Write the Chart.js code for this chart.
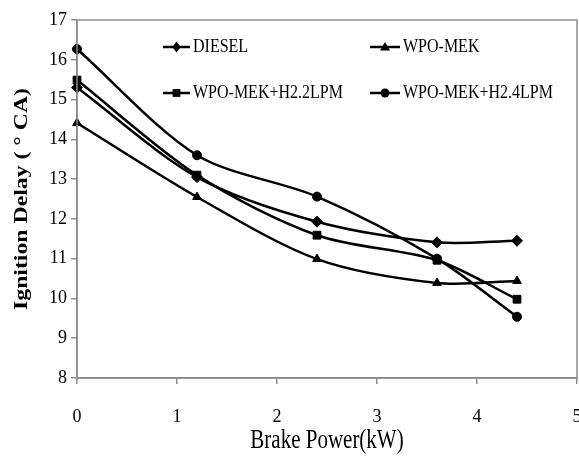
<!DOCTYPE html>
<html>
<head>
<meta charset="utf-8">
<script src="https://cdn.jsdelivr.net/npm/chart.js"></script>
<style>
  body { margin: 0; background: #fff; }
</style>
</head>
<body>
<canvas id="chart" width="579" height="459"></canvas>
<script>
// Brake power (kW) where readings were taken
const brakePower = [0, 1.2, 2.4, 3.6, 4.4];
// Ignition delay (deg CA) per fuel
const diesel = [15.3, 13.05, 11.93, 11.41, 11.45];
const wpoMek = [14.41, 12.55, 10.99, 10.39, 10.44];
const wpoMekH22 = [15.49, 13.1, 11.59, 10.96, 9.98];
const wpoMekH24 = [16.27, 13.6, 12.56, 11.0, 9.54];
const seriesNames = ['DIESEL', 'WPO-MEK', 'WPO-MEK+H2.2LPM', 'WPO-MEK+H2.4LPM'];
const markers = ['rectRot', 'triangle', 'rect', 'circle'];
const xTicks = [0, 1, 2, 3, 4, 5];
const yTicks = [8, 9, 10, 11, 12, 13, 14, 15, 16, 17];

const serif = '"Liberation Serif", "Times New Roman", serif';
const axisGray = '#8c8c8c';

function toPoints(values) {
  return values.map((v, i) => ({ x: brakePower[i], y: v }));
}

const allSeries = [diesel, wpoMek, wpoMekH22, wpoMekH24];
const markerSize = { rectRot: 5.5, triangle: 5, rect: 5.5, circle: 4.5 };

const datasets = allSeries.map((vals, i) => ({
  label: seriesNames[i],
  data: toPoints(vals),
  borderColor: '#000',
  backgroundColor: '#000',
  borderWidth: 2.5,
  pointStyle: markers[i],
  pointRadius: markerSize[markers[i]],
  pointBorderWidth: 1,
  tension: 0.3,
  clip: false
}));

// draw one legend marker by hand
function drawMarker(ctx, style, x, y, r) {
  ctx.beginPath();
  if (style === 'circle') {
    ctx.arc(x, y, r, 0, Math.PI * 2);
  } else if (style === 'rect') {
    const s = r * Math.SQRT1_2;
    ctx.rect(x - s, y - s, 2 * s, 2 * s);
  } else if (style === 'rectRot') {
    ctx.moveTo(x, y - r);
    ctx.lineTo(x + r * 0.75, y);
    ctx.lineTo(x, y + r);
    ctx.lineTo(x - r * 0.75, y);
    ctx.closePath();
  } else if (style === 'triangle') {
    ctx.moveTo(x, y - r);
    ctx.lineTo(x + r, y + r * 0.7);
    ctx.lineTo(x - r, y + r * 0.7);
    ctx.closePath();
  }
  ctx.fill();
}

const decorPlugin = {
  id: 'decor',
  afterDraw(chart) {
    const { ctx, chartArea: a } = chart;
    ctx.save();

    // frame around plot
    ctx.strokeStyle = axisGray;
    ctx.lineWidth = 1.5;
    ctx.strokeRect(a.left, a.top, a.right - a.left, a.bottom - a.top);

    ctx.fillStyle = '#000';
    ctx.textAlign = 'center';
    ctx.textBaseline = 'middle';

    // y axis title (stretched like the original)
    ctx.save();
    ctx.translate(22, (a.top + a.bottom) / 2);
    ctx.rotate(-Math.PI / 2);
    ctx.scale(1.25, 1);
    ctx.font = 'bold 19px ' + serif;
    ctx.fillText('Ignition Delay ( \u00b0 CA)', 0, 0);
    ctx.restore();

    // x axis title
    ctx.save();
    ctx.translate((a.left + a.right) / 2, 441);
    ctx.scale(1, 1.25);
    ctx.font = '21px ' + serif;
    ctx.fillText('Brake Power(kW)', 0, 0);
    ctx.restore();

    // legend, two columns two rows inside plot
    const cols = [{ x0: 163, x1: 190, tx: 193 }, { x0: 370, x1: 400, tx: 403 }];
    const rows = [47, 93];
    ctx.textAlign = 'left';
    seriesNames.forEach((name, i) => {
      const c = cols[i % 2];
      const y = rows[Math.floor(i / 2)];
      ctx.strokeStyle = '#000';
      ctx.lineWidth = 2.5;
      ctx.beginPath();
      ctx.moveTo(c.x0, y);
      ctx.lineTo(c.x1, y);
      ctx.stroke();
      drawMarker(ctx, markers[i], (c.x0 + c.x1) / 2, y, markerSize[markers[i]]);
      ctx.save();
      ctx.translate(c.tx, y);
      ctx.scale(1, 1.2);
      ctx.font = '16px ' + serif;
      ctx.fillText(name, 0, 0);
      ctx.restore();
    });

    ctx.restore();
  }
};

const noPadding = () => ({ left: 0, right: 0, top: 0, bottom: 0 });

new Chart(document.getElementById('chart'), {
  type: 'line',
  data: { datasets },
  plugins: [decorPlugin],
  options: {
    responsive: false,
    animation: false,
    layout: { autoPadding: false, padding: { top: 20, right: 2, left: 0, bottom: 0 } },
    plugins: {
      legend: { display: false },
      tooltip: { enabled: false }
    },
    scales: {
      x: {
        type: 'linear',
        min: xTicks[0],
        max: xTicks[xTicks.length - 1],
        afterBuildTicks: (s) => { s.ticks = xTicks.map(v => ({ value: v })); },
        ticks: { color: '#000', font: { family: serif, size: 18 }, padding: 22, maxRotation: 0 },
        grid: { drawOnChartArea: false, tickLength: 6, color: axisGray, lineWidth: 1.5 },
        border: { color: axisGray, width: 1.5 },
        afterFit: (s) => {
          s.height = 81;
          s.paddingLeft = 0;
          s.paddingRight = 0;
          s.getPadding = noPadding;
        }
      },
      y: {
        type: 'linear',
        min: yTicks[0],
        max: yTicks[yTicks.length - 1],
        afterBuildTicks: (s) => { s.ticks = yTicks.map(v => ({ value: v })); },
        ticks: { color: '#000', font: { family: serif, size: 18 }, padding: 4 },
        grid: { drawOnChartArea: false, tickLength: 6, color: axisGray, lineWidth: 1.5 },
        border: { color: axisGray, width: 1.5 },
        afterFit: (s) => {
          s.width = 77;
          s.paddingTop = 0;
          s.paddingBottom = 0;
          s.getPadding = noPadding;
        }
      }
    }
  }
});
</script>
</body>
</html>
